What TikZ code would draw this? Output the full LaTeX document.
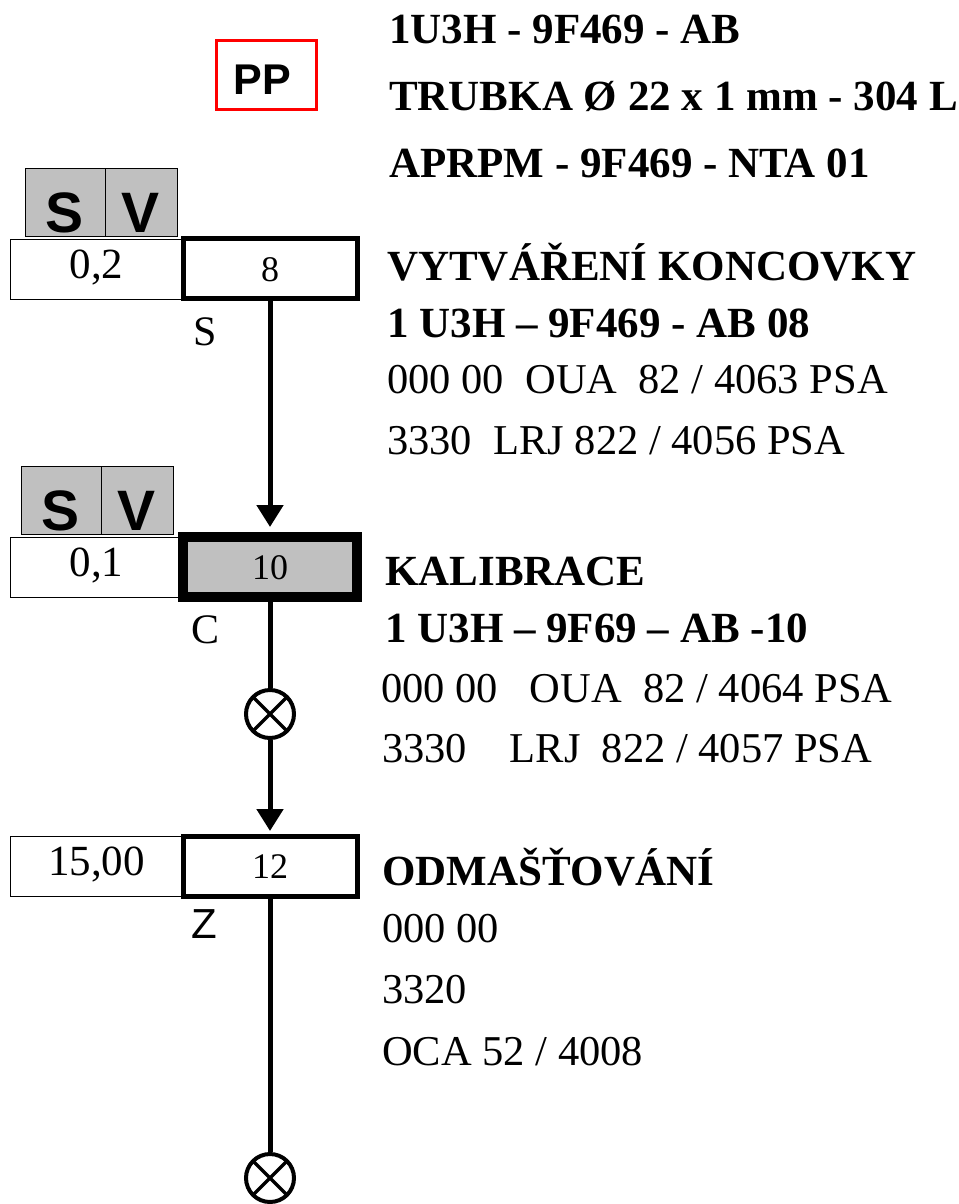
\documentclass[tikz,border=0pt]{standalone}
\usepackage{fontspec}
\setmainfont{Liberation Serif}
\setsansfont{Liberation Sans}
\usetikzlibrary{arrows.meta}
\definecolor{svgray}{RGB}{192,192,192}
\tikzset{
  valbox/.style={draw, line width=1pt, minimum width=173pt, minimum height=60pt, inner sep=0pt,
    text height=28pt, text depth=10pt, font=\fontsize{43}{43}\selectfont},
  opbox/.style={draw, line width=5pt, minimum width=174pt, minimum height=60pt, inner sep=0pt,
    text height=25pt, text depth=0pt, font=\fontsize{36}{36}\selectfont},
  svbox/.style={draw, line width=0.8pt, fill=svgray, minimum height=68pt, inner sep=0pt,
    text height=61pt, text depth=0pt, font=\sffamily\bfseries\fontsize{57}{57}\selectfont},
  txt/.style={anchor=base west, inner sep=0pt, font=\fontsize{42.5}{42.5}\selectfont},
  hd/.style={txt, font=\bfseries\fontsize{43}{43}\selectfont},
  oplab/.style={anchor=base, inner sep=0pt, font=\fontsize{42}{42}\selectfont},
  xcirc/.style={circle, draw, line width=4pt, minimum size=48pt, inner sep=0pt,
    path picture={\draw[line width=3.5pt] (path picture bounding box.south west) -- (path picture bounding box.north east)
      (path picture bounding box.north west) -- (path picture bounding box.south east);}},
  flow/.style={line width=5pt},
  tip/.style={-{Triangle[width=26pt,length=22pt]}}
}
\begin{document}
\begin{tikzpicture}[x=1pt,y=-1pt]
  \useasboundingbox (0,0) rectangle (958,1204);
  % header
  \node[draw=red, line width=3pt, minimum width=100pt, minimum height=69pt, inner sep=0pt,
    text height=39pt, text depth=0pt, font=\sffamily\bfseries\fontsize{43}{43}\selectfont] (pp) at (266,75.5) {\hspace*{-8pt}PP};
  \node[hd] (part) at (389,44) {1U3H - 9F469 - AB};
  \node[hd] (tube) at (389,111) {TRUBKA Ø 22 x 1 mm - 304 L};
  \node[hd] (prog) at (389,177) {APRPM - 9F469 - NTA 01};
  % operation 8
  \node[svbox, minimum width=80pt] (sv1s) at (65,202) {S};
  \node[svbox, minimum width=72pt] (sv1v) at (141,202) {V};
  \node[valbox] (val1) at (96.5,269) {0,2};
  \node[opbox] (op1) at (270,268.5) {8};
  \node[oplab] (lab1) at (205,345) {S};
  \node[hd] (name1) at (387,280) {VYTVÁŘENÍ KONCOVKY};
  \node[hd] (ref1) at (387,337) {1 U3H – 9F469 - AB 08};
  \node[txt] (ta1) at (387,393) {000 00\ \ OUA\ \ 82 / 4063 PSA};
  \node[txt] (tb1) at (387,454) {3330\ \ LRJ 822 / 4056 PSA};
  % operation 10
  \node[svbox, minimum width=80pt] (sv2s) at (61,500) {S};
  \node[svbox, minimum width=72pt] (sv2v) at (137,500) {V};
  \node[valbox] (val2) at (96.5,567.5) {0,1};
  \node[opbox, fill=svgray, line width=10pt] (op2) at (270,567) {10};
  \node[oplab] (lab2) at (206,643) {C};
  \node[hd] (name2) at (385,585) {KALIBRACE};
  \node[hd] (ref2) at (385,642) {1 U3H – 9F69 – AB -10};
  \node[txt] (ta2) at (381,702) {000 00\ \ \ OUA\ \ 82 / 4064 PSA};
  \node[txt] (tb2) at (382,762) {3330\ \ \ \ LRJ\ \ 822 / 4057 PSA};
  \node[xcirc] (x1) at (270,714) {};
  % operation 12
  \node[valbox] (val3) at (96.5,866) {15,00};
  \node[opbox] (op3) at (270,866) {12};
  \node[oplab, font=\sffamily\fontsize{42}{42}\selectfont] (lab3) at (204,938) {Z};
  \node[hd] (name3) at (382,885) {ODMAŠŤOVÁNÍ};
  \node[txt] (ta3) at (382,942) {000 00};
  \node[txt] (tb3) at (382,1003) {3320};
  \node[txt] (tc3) at (382,1065) {OCA 52 / 4008};
  \node[xcirc] (x2) at (270,1178) {};
  % flow
  \draw[flow, tip, shorten >=5pt] (op1) -- (op2);
  \draw[flow] (op2) -- (x1);
  \draw[flow, tip, shorten >=2.5pt] (x1) -- (op3);
  \draw[flow] (op3) -- (x2);
\end{tikzpicture}
\end{document}
